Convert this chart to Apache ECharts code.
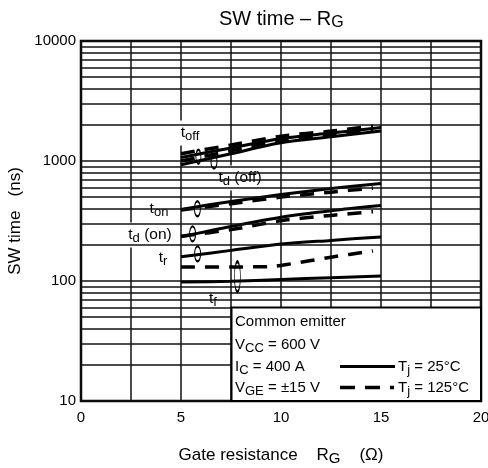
<!DOCTYPE html>
<html><head><meta charset="utf-8">
<script src="https://cdn.jsdelivr.net/npm/echarts@6/dist/echarts.min.js"></script>
<style>html,body{margin:0;padding:0;background:#fff}#c{width:488px;height:468px}</style>
</head><body><div id="c"></div>
<script>
// ---- data ----
const rg      = [5, 7.5, 10, 12.5, 15];
const rgDash  = [5, 7.5, 10, 12.5, 14.6];
const toff25   = [1070, 1285, 1540, 1710, 1900];
const toff125  = [1150, 1360, 1610, 1775, 1960];
const tdoff25  = [930, 1150, 1420, 1590, 1780];
const tdoff125 = [1000, 1215, 1480, 1650, 1840];
const ton25    = [395, 460, 525, 590, 650];
const ton125   = [390, 440, 500, 550, 595];
const tdon25   = [234, 285, 340, 385, 425];
const tdon125  = [236, 268, 318, 352, 378];
const tr25     = [159, 180, 203, 218, 233];
const tf125X   = [5, 7.5, 9.5, 10.5, 12.5, 14.6];
const tf125    = [131, 131, 132, 139, 158, 178];
const tf25     = [98, 99.5, 103, 106.5, 110];
const minorTicks = [20,30,40,50,60,70,80,90,200,300,400,500,600,700,800,900,2000,3000,4000,5000,6000,7000,8000,9000];
const xTickLabels = [0, 5, 10, 15, 20];
const curveNames = ['{t|t}{s|off}', '{t|t}{s|d}{t| (off)}', '{t|t}{s|on}', '{t|t}{s|d}{t| (on)}', '{t|t}{s|r}', '{t|t}{s|f}'];
const curveNameAt = [[5.45,1711],[7.95,721],[3.9,398],[3.45,242],[4.1,155.5],[6.6,70.8]];
const ellipseAt = [[5.87,1086],[6.65,990],[5.82,400],[5.58,247],[5.83,168.5],[7.82,108.6]];
const conditionLines = ['Common emitter', '{a|V}{s|CC}{a| = 600 V}', '{a|I}{s|C}{a| = 400 A}', '{a|V}{s|GE}{a| = ±15 V}'];
const tempLabels = ['{a|T}{s|j}{a| = 25°C}', '{a|T}{s|j}{a| = 125°C}'];

// ---- styles ----
const FONT = 'Liberation Sans, Arial, sans-serif';
const labelPads = [[3,10],[3,4],[2,10],[3,3],[2,7],[1,10]];
const ellipseSizes = [[5,14],[6,14],[6,15],[6,15],[6,15],[6,30]];
const subRich = (big, small, drop) => ({
  a: {fontSize: big, fontFamily: FONT, color: '#000', fontWeight: 'normal'},
  t: {fontSize: big, fontFamily: FONT, color: '#000', fontWeight: 'normal'},
  s: {fontSize: small, fontFamily: FONT, color: '#000', fontWeight: 'normal', padding: [drop, 0, 0, 0]}
});
const DASH = [14, 10];

const zip = (xs, ys) => xs.map((x, i) => [x, ys[i]]);
function curve(name, xs, ys, dashed) {
  return {
    type: 'line', name: name, data: zip(xs, ys),
    smooth: 0.3, symbol: 'none', z: 4, silent: true,
    lineStyle: {color: '#000', width: dashed ? 3.5 : 3, type: dashed ? DASH : 'solid', cap: 'butt'}
  };
}

const series = [
  {
    type: 'line', name: 'grid', data: [[0, 10]], symbol: 'none', z: 1, silent: true,
    lineStyle: {opacity: 0},
    markLine: {silent: true, symbol: 'none', label: {show: false}, animation: false,
      lineStyle: {color: '#111', width: 1.5, type: 'solid'},
      data: minorTicks.map(v => ({yAxis: v}))}
  },
  {
    type: 'scatter', name: 'labels', z: 3, silent: true, symbolSize: 0.1,
    itemStyle: {color: '#fff', opacity: 1},
    data: curveNameAt.map((p, i) => ({
      value: p,
      label: {show: true, position: 'inside', formatter: curveNames[i], color: '#000', opacity: 1,
        textBorderWidth: 0, backgroundColor: '#fff', padding: labelPads[i], rich: subRich(15.5, 13, 6)}
    }))
  },
  curve('toff25', rg, toff25, false),
  curve('toff125', rgDash, toff125, true),
  curve('tdoff25', rg, tdoff25, false),
  curve('tdoff125', rgDash, tdoff125, true),
  curve('ton25', rg, ton25, false),
  curve('ton125', rgDash, ton125, true),
  curve('tdon25', rg, tdon25, false),
  curve('tdon125', rgDash, tdon125, true),
  curve('tr25', rg, tr25, false),
  curve('tf125', tf125X, tf125, true),
  curve('tf25', rg, tf25, false),
  {
    type: 'scatter', name: 'ellipses', z: 5, silent: true, symbol: 'circle',
    data: ellipseAt.map((p, i) => ({value: p, symbolSize: ellipseSizes[i]})),
    itemStyle: {color: 'rgba(0,0,0,0)', borderColor: '#000', borderWidth: 1.5, opacity: 1}
  }
];

const boxText = (y, text) => ({type: 'text', z: 7, x: 235, y: y,
  style: {text: text, rich: subRich(15, 13, 6), fontSize: 15, fontFamily: FONT, fill: '#000', verticalAlign: 'middle'}});

const chart = echarts.init(document.getElementById('c'), null, {renderer: 'canvas'});
chart.setOption({
  animation: false,
  backgroundColor: '#fff',
  title: {
    text: '{a|SW time – R}{s|G}', left: 214, top: 3,
    textStyle: {fontWeight: 'normal', rich: subRich(20, 16, 7)}
  },
  grid: {left: 81, right: 7, top: 41, bottom: 67, show: true, borderColor: '#000', borderWidth: 2.5,
    backgroundColor: 'transparent', containLabel: false, outerBoundsMode: 'none'},
  xAxis: {
    type: 'value', min: 0, max: 20, interval: 2.5,
    name: '{a|Gate resistance    R}{s|G}{a|    (Ω)}', nameLocation: 'middle', nameGap: 43,
    nameTextStyle: {rich: subRich(17, 15, 7)},
    axisLine: {show: false}, axisTick: {show: false},
    axisLabel: {color: '#000', fontSize: 15, fontFamily: FONT, margin: 9, showMaxLabel: true,
      formatter: v => xTickLabels.includes(v) ? String(v) : ''},
    splitLine: {show: true, lineStyle: {color: '#111', width: 1.5}}
  },
  yAxis: {
    type: 'log', logBase: 10, min: 10, max: 10000,
    name: 'SW time   (ns)', nameLocation: 'middle', nameGap: 56, nameRotate: 90,
    nameTextStyle: {color: '#000', fontSize: 17, fontFamily: FONT},
    axisLine: {show: false}, axisTick: {show: false},
    axisLabel: {color: '#000', fontSize: 15, fontFamily: FONT, margin: 5, formatter: v => String(v)},
    splitLine: {show: true, lineStyle: {color: '#111', width: 1.5}}
  },
  graphic: [
    {type: 'rect', z: 6, shape: {x: 231.5, y: 307.5, width: 249.5, height: 93.5},
      style: {fill: '#fff', stroke: '#000', lineWidth: 2}},
    boxText(322, conditionLines[0]),
    boxText(345, conditionLines[1]),
    boxText(367, conditionLines[2]),
    boxText(388, conditionLines[3]),
    {type: 'line', z: 7, shape: {x1: 340, y1: 366.5, x2: 395, y2: 366.5}, style: {stroke: '#000', lineWidth: 3}},
    {type: 'line', z: 7, shape: {x1: 340, y1: 387.5, x2: 394, y2: 387.5}, style: {stroke: '#000', lineWidth: 3.5, lineDash: [15, 10]}},
    {type: 'text', z: 7, x: 398, y: 367, style: {text: tempLabels[0], rich: subRich(15, 13, 6), verticalAlign: 'middle'}},
    {type: 'text', z: 7, x: 398, y: 388, style: {text: tempLabels[1], rich: subRich(15, 13, 6), verticalAlign: 'middle'}}
  ],
  series: series
});
</script></body></html>
